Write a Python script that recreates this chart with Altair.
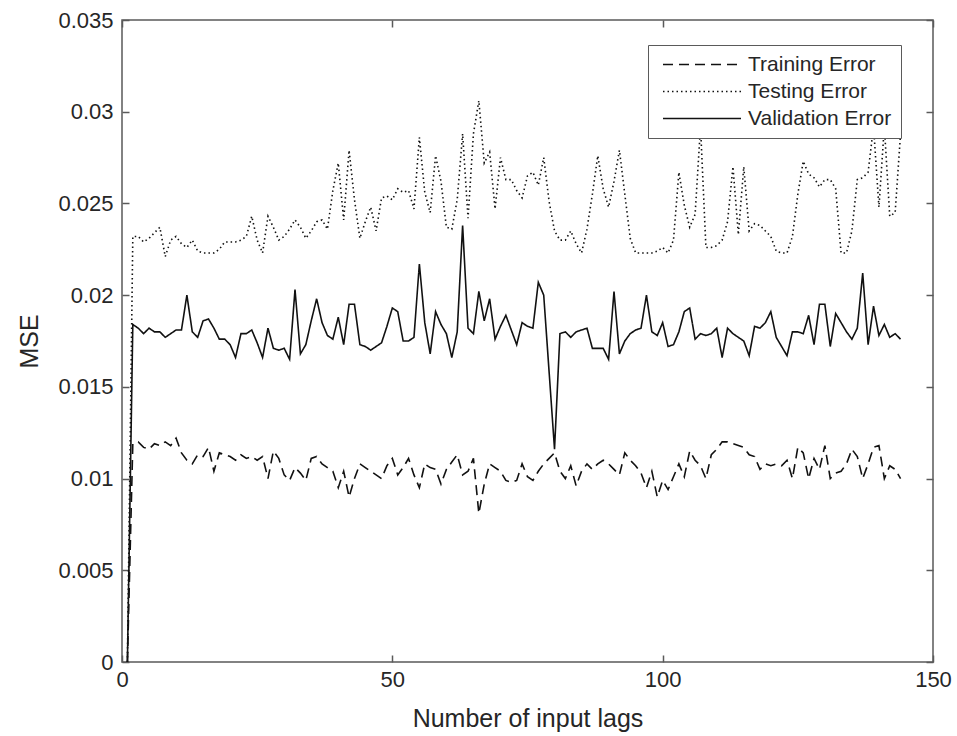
import altair as alt
import pandas as pd

lags = list(range(1, 145))

training = [
    0.0, 0.0119, 0.0120, 0.0117, 0.0116, 0.0119, 0.0118, 0.0120, 0.0118, 0.0122,
    0.0114, 0.0110, 0.0108, 0.0113, 0.0112, 0.0117, 0.0104, 0.0114, 0.0113, 0.0112,
    0.0110, 0.0113, 0.0111, 0.0112, 0.0110, 0.0112, 0.0100, 0.0115, 0.0111, 0.0102,
    0.0099, 0.0106, 0.0103, 0.0099, 0.0111, 0.0112, 0.0108, 0.0106, 0.0104, 0.0095,
    0.0104, 0.0090, 0.0100, 0.0108, 0.0106, 0.0104, 0.0102, 0.0100, 0.0107, 0.0111,
    0.0102, 0.0106, 0.0111, 0.0102, 0.0095, 0.0108, 0.0106, 0.0105, 0.0097, 0.0105,
    0.0109, 0.0113, 0.0102, 0.0104, 0.0111, 0.0081, 0.0097, 0.0108, 0.0106, 0.0104,
    0.0099, 0.0098, 0.0099, 0.0108, 0.0101, 0.0099, 0.0104, 0.0108, 0.0111, 0.0114,
    0.0104, 0.0100, 0.0107, 0.0096, 0.0104, 0.0108, 0.0105, 0.0108, 0.0110, 0.0108,
    0.0105, 0.0102, 0.0114, 0.0110, 0.0107, 0.0103, 0.0095, 0.0104, 0.0090, 0.0099,
    0.0094, 0.0101, 0.0108, 0.0101, 0.0115, 0.0110, 0.0107, 0.0100, 0.0113, 0.0116,
    0.0120, 0.0120, 0.0119, 0.0118, 0.0117, 0.0113, 0.0112, 0.0105, 0.0108, 0.0107,
    0.0108, 0.0107, 0.0110, 0.0100, 0.0117, 0.0114, 0.0100, 0.0111, 0.0105, 0.0118,
    0.0100, 0.0103, 0.0104, 0.0108, 0.0116, 0.0112, 0.0100, 0.0108, 0.0117, 0.0118,
    0.0100, 0.0107, 0.0105, 0.0100,
]

testing = [
    0.0, 0.0232, 0.0232, 0.0229, 0.0231, 0.0234, 0.0237, 0.0221, 0.0230, 0.0232,
    0.0228, 0.0226, 0.0230, 0.0224, 0.0223, 0.0223, 0.0223, 0.0225, 0.0229, 0.0229,
    0.0229, 0.0230, 0.0232, 0.0243, 0.0230, 0.0223, 0.0243, 0.0237, 0.0230, 0.0232,
    0.0236, 0.0241, 0.0237, 0.0231, 0.0235, 0.0240, 0.0241, 0.0236, 0.0257, 0.0272,
    0.0241, 0.0279, 0.0252, 0.0231, 0.0240, 0.0248, 0.0235, 0.0253, 0.0254, 0.0252,
    0.0258, 0.0256, 0.0257, 0.0247, 0.0286, 0.0256, 0.0245, 0.0276, 0.0262, 0.0237,
    0.0236, 0.0252, 0.0288, 0.0242, 0.0288, 0.0306, 0.0272, 0.0278, 0.0247, 0.0275,
    0.0263, 0.0263, 0.0257, 0.0253, 0.0265, 0.0267, 0.0260, 0.0275, 0.0251, 0.0235,
    0.0230, 0.0230, 0.0235, 0.0228, 0.0223, 0.0236, 0.0255, 0.0276, 0.0258, 0.0248,
    0.0262, 0.0279, 0.0255, 0.0231, 0.0223, 0.0223, 0.0223, 0.0223, 0.0224, 0.0226,
    0.0223, 0.0230, 0.0267, 0.0249, 0.0237, 0.0244, 0.0292, 0.0226, 0.0226, 0.0227,
    0.0230, 0.0240, 0.0270, 0.0233, 0.0270, 0.0235, 0.0239, 0.0238, 0.0235, 0.0232,
    0.0224, 0.0223, 0.0223, 0.0232, 0.0255, 0.0273, 0.0266, 0.0264, 0.0259, 0.0263,
    0.0263, 0.0258, 0.0223, 0.0223, 0.0235, 0.0263, 0.0264, 0.0267, 0.0292, 0.0248,
    0.0292, 0.0243, 0.0245, 0.0288,
]

validation = [
    0.0, 0.0184, 0.0182, 0.0179, 0.0182, 0.0180, 0.0180, 0.0177, 0.0179, 0.0181,
    0.0181, 0.0200, 0.0180, 0.0177, 0.0186, 0.0187, 0.0182, 0.0176, 0.0176, 0.0173,
    0.0166, 0.0179, 0.0179, 0.0181, 0.0174, 0.0166, 0.0182, 0.0171, 0.0170, 0.0171,
    0.0165, 0.0203, 0.0168, 0.0173, 0.0186, 0.0198, 0.0185, 0.0178, 0.0176, 0.0188,
    0.0173, 0.0195, 0.0195, 0.0173, 0.0172, 0.0170, 0.0172, 0.0174, 0.0183, 0.0193,
    0.0191, 0.0175, 0.0175, 0.0177, 0.0217, 0.0185, 0.0168, 0.0191, 0.0184, 0.0179,
    0.0166, 0.0180, 0.0238, 0.0182, 0.0179, 0.0202, 0.0186, 0.0198, 0.0176, 0.0183,
    0.0189, 0.0181, 0.0173, 0.0185, 0.0183, 0.0182, 0.0207, 0.0200, 0.0158, 0.0116,
    0.0179, 0.0180, 0.0177, 0.0180, 0.0181, 0.0182, 0.0171, 0.0171, 0.0171, 0.0165,
    0.0202, 0.0168, 0.0175, 0.0179, 0.0181, 0.0182, 0.0200, 0.0180, 0.0178, 0.0185,
    0.0172, 0.0173, 0.0180, 0.0191, 0.0193, 0.0176, 0.0179, 0.0178, 0.0179, 0.0182,
    0.0166, 0.0182, 0.0179, 0.0177, 0.0175, 0.0167, 0.0183, 0.0182, 0.0185, 0.0191,
    0.0177, 0.0172, 0.0167, 0.0180, 0.0180, 0.0179, 0.0189, 0.0173, 0.0195, 0.0195,
    0.0172, 0.0190, 0.0185, 0.0180, 0.0176, 0.0182, 0.0212, 0.0173, 0.0194, 0.0178,
    0.0184, 0.0177, 0.0179, 0.0176,
]

series_names = ["Training Error", "Testing Error", "Validation Error"]
x_ticks = [0, 50, 100, 150]
y_ticks = [0, 0.005, 0.01, 0.015, 0.02, 0.025, 0.03, 0.035]

df = pd.DataFrame({
    "lag": lags * 3,
    "mse": training + testing + validation,
    "series": [s for s in series_names for _ in lags],
})

W, H = 811, 642
FONT = "Liberation Sans"
TXT = "#262626"
FRAME = "#5a5a5a"

dash_scale = alt.Scale(domain=series_names, range=[[10, 6], [1.5, 3], [1, 0]])
x_scale = alt.Scale(domain=[0, 150], nice=False)
y_scale = alt.Scale(domain=[0, 0.035], nice=False)

legend = alt.Legend(
    title=None, orient="none", legendX=526, legendY=25, direction="vertical",
    symbolType="stroke", symbolSize=6084, clipHeight=21, symbolStrokeWidth=1.5,
    symbolOffset=5, symbolStrokeColor="#111111", labelFont=FONT,
    labelFontSize=21, labelColor=TXT, labelOffset=6, labelLimit=400,
    strokeColor=FRAME, fillColor="white", padding=9, rowPadding=5,
)


def tick_axis(orient, offset, values):
    return alt.Axis(
        orient=orient, offset=offset, values=values, labels=False, ticks=True,
        tickSize=7, tickColor=FRAME, tickWidth=1.5, domain=False, grid=False,
        title="",
    )


x_main = alt.Axis(
    orient="bottom", values=x_ticks, title="Number of input lags", ticks=False,
    domain=False, grid=False, labelFont=FONT, labelFontSize=22, labelColor=TXT,
    labelPadding=7, labelFlush=False, titleFont=FONT, titleFontSize=25,
    titleFontWeight="normal", titleColor=TXT, titlePadding=16,
)
y_main = alt.Axis(
    orient="left", values=y_ticks, format="~g", title="MSE", ticks=False,
    domain=False, grid=False, labelFont=FONT, labelFontSize=22, labelColor=TXT,
    labelPadding=9, labelFlush=False, titleFont=FONT, titleFontSize=25,
    titleFontWeight="normal", titleColor=TXT, titlePadding=15,
)


def layer(name, xaxis, yaxis, with_legend):
    sd = alt.StrokeDash("series:N", scale=dash_scale, legend=legend) if with_legend \
        else alt.StrokeDash("series:N", scale=dash_scale)
    return alt.Chart(df).transform_filter(alt.datum.series == name).mark_line(
        color="#111111", strokeWidth=1.6
    ).encode(
        x=alt.X("lag:Q", scale=x_scale, axis=xaxis),
        y=alt.Y("mse:Q", scale=y_scale, axis=yaxis),
        strokeDash=sd,
    )


l1 = layer("Training Error", x_main, y_main, True)
l2 = layer("Testing Error", tick_axis("top", -H, x_ticks), tick_axis("right", -W, y_ticks), False)
l3 = layer("Validation Error", tick_axis("bottom", -H, x_ticks), tick_axis("left", -W, y_ticks), False)

chart = alt.layer(l1, l2, l3).resolve_axis(
    x="independent", y="independent"
).properties(
    width=W, height=H,
    autosize=alt.AutoSizeParams(type="none"),
    padding={"left": 122, "top": 20, "right": 24, "bottom": 74},
    background="white",
).configure_view(stroke=FRAME, strokeWidth=1.5)

chart.save("out.html", embed_options={"renderer": "svg", "actions": False})
